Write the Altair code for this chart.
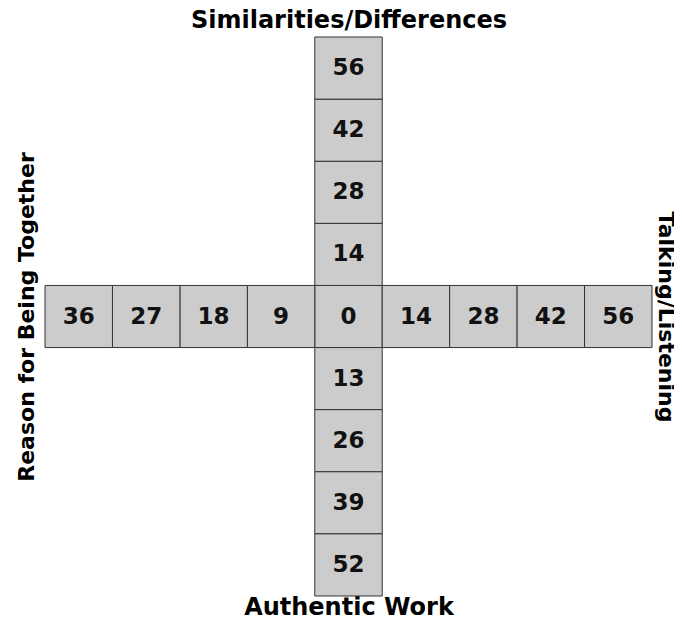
import altair as alt
import pandas as pd

# Cross layout values
center_val = 0
top_vals = [14, 28, 42, 56]      # going up from center
bottom_vals = [13, 26, 39, 52]   # going down from center
left_vals = [9, 18, 27, 36]      # going left from center
right_vals = [14, 28, 42, 56]    # going right from center

title_top = "Similarities/Differences"
title_bottom = "Authentic Work"
title_left = "Reason for Being Together"
title_right = "Talking/Listening"

rows = [dict(col=0, row=0, val=center_val)]
for i, v in enumerate(top_vals, 1):
    rows.append(dict(col=0, row=i, val=v))
for i, v in enumerate(bottom_vals, 1):
    rows.append(dict(col=0, row=-i, val=v))
for i, v in enumerate(left_vals, 1):
    rows.append(dict(col=-i, row=0, val=v))
for i, v in enumerate(right_vals, 1):
    rows.append(dict(col=i, row=0, val=v))
df = pd.DataFrame(rows)
df["x0"] = df["col"] - 0.5
df["x1"] = df["col"] + 0.5
df["y0"] = df["row"] - 0.5
df["y1"] = df["row"] + 0.5

FONT = "DejaVu Sans"
xs = alt.Scale(domain=[-4.5, 4.5], nice=False, zero=False)
ys = alt.Scale(domain=[-4.5, 4.5], nice=False, zero=False)

def ax(title, orient, pad, fs=24, angle=None):
    kw = dict(title=title, orient=orient, labels=False, ticks=False, domain=False,
              grid=False, titleFont=FONT, titleFontSize=fs, titleFontWeight="bold",
              titleColor="#000000", titlePadding=pad)
    if angle is not None:
        kw["titleAngle"] = angle
    return alt.Axis(**kw)

rects = alt.Chart(df).mark_rect(fill="#cccccc", stroke="#333333", strokeWidth=1).encode(
    x=alt.X("x0:Q", scale=xs, axis=ax(title_bottom, "bottom", -1, fs=24)),
    x2="x1:Q",
    y=alt.Y("y0:Q", scale=ys, axis=ax(title_left, "left", 7, fs=22)),
    y2="y1:Q",
)

texts = alt.Chart(df).mark_text(font=FONT, fontSize=23, fontWeight="bold", color="#111111").encode(
    x=alt.X("col:Q", scale=xs, axis=ax(title_top, "top", 5)),
    y=alt.Y("row:Q", scale=ys, axis=ax(title_right, "right", 1, fs=22, angle=90)),
    text="val:Q",
)

chart = alt.layer(rects, texts).resolve_axis(x="independent", y="independent").properties(
    width=607, height=559,
    autosize=alt.AutoSizeParams(type="none"),
    padding={"left": 37, "top": 29, "right": 22, "bottom": 19},
).configure_view(stroke=None)

chart.save("out.html", embed_options={"renderer": "svg", "actions": False})
